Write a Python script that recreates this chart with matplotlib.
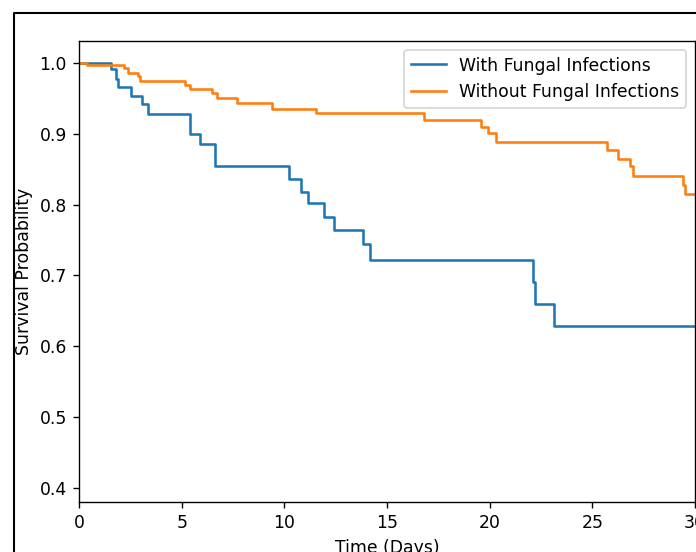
import matplotlib
matplotlib.use("Agg")
import matplotlib.pyplot as plt
from matplotlib.lines import Line2D

# Kaplan-Meier style step data
with_t = [0, 1.56, 1.79, 1.9, 2.52, 3.05, 3.38, 5.41, 5.89, 6.64, 10.22, 10.81,
          11.17, 11.93, 12.42, 13.82, 14.17, 22.13, 22.23, 23.14, 30]
with_s = [1.0, 0.991, 0.978, 0.966, 0.954, 0.942, 0.928, 0.899, 0.885, 0.854,
          0.836, 0.818, 0.802, 0.782, 0.764, 0.744, 0.722, 0.691, 0.659, 0.628, 0.628]

without_t = [0, 0.37, 2.2, 2.4, 2.86, 2.99, 5.17, 5.41, 6.46, 6.72, 7.7, 9.42,
             11.54, 16.8, 19.6, 19.9, 20.3, 25.72, 26.27, 26.84, 26.98, 29.42, 29.52, 30]
without_s = [1.0, 0.997, 0.993, 0.986, 0.981, 0.974, 0.969, 0.963, 0.957, 0.950,
             0.943, 0.935, 0.929, 0.919, 0.909, 0.901, 0.889, 0.877, 0.865, 0.854,
             0.840, 0.828, 0.815, 0.815]

# the reference looks like a default plot scaled up ~1.24x
DPI = 124
fig = plt.figure(figsize=(696 / DPI, 552 / DPI), dpi=DPI)
ax = fig.add_axes([0.1135, 0.0906, 0.8851, 0.8351])

ax.step(with_t, with_s, where='post', label='With Fungal Infections')
ax.step(without_t, without_s, where='post', label='Without Fungal Infections')

ax.set_xlim(0, 30)
ax.set_ylim(0.38, 1.031)
ax.set_xticks([0, 5, 10, 15, 20, 25, 30])
ax.set_xlabel('Time (Days)')
ax.set_ylabel('Survival Probability')
ax.legend(loc='upper right')

# screenshot frame (left and top edges)
x0 = 14 / 696
y0 = 1 - 13 / 552
fig.add_artist(Line2D([x0, x0, 1], [0, y0, y0], color='black', linewidth=1.2,
                      transform=fig.transFigure))

fig.savefig('out.png', dpi=DPI)
